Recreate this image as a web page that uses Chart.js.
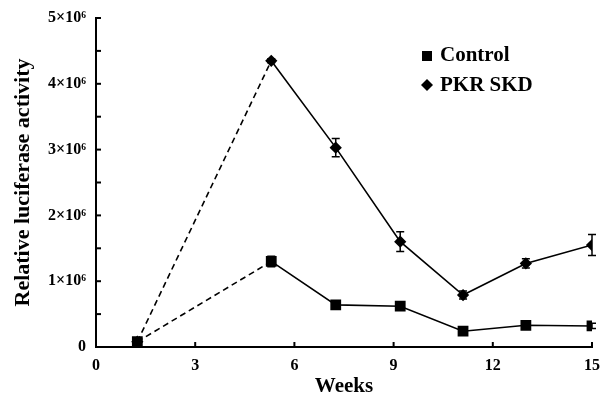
<!DOCTYPE html>
<html>
<head>
<meta charset="utf-8">
<script src="https://cdn.jsdelivr.net/npm/chart.js@4.4.0/dist/chart.umd.min.js"></script>
<style>
  html, body { margin: 0; padding: 0; background: #fff; }
  #wrap { width: 602px; height: 399px; }
</style>
</head>
<body>
<div id="wrap"><canvas id="c"></canvas></div>
<script>
// values in units of 10^6
const weeks = [1.25, 5.3, 7.25, 9.2, 11.1, 13.0, 15];
const controlVals = [0.08, 1.3, 0.64, 0.62, 0.24, 0.33, 0.32];
const controlErr = [0.02, 0.08, 0.03, 0.03, 0.04, 0.05, 0.04];
const pkrVals = [0.08, 4.35, 3.03, 1.6, 0.79, 1.27, 1.55];
const pkrErr = [0.02, 0.03, 0.14, 0.15, 0.06, 0.07, 0.16];
const xTicks = [0, 3, 6, 9, 12, 15];

const FONT = "'Liberation Serif', 'Times New Roman', serif";

const pts = (vals) => vals.map((v, i) => ({ x: weeks[i], y: v }));

// error bars, inward ticks and legend
const extras = {
  id: "extras",
  afterDatasetsDraw(chart) {
    const { ctx, scales: { x, y }, chartArea } = chart;
    ctx.save();
    ctx.strokeStyle = "#000";
    ctx.lineWidth = 1.5;
    [[controlVals, controlErr], [pkrVals, pkrErr]].forEach(([vals, errs]) => {
      vals.forEach((v, i) => {
        const px = x.getPixelForValue(weeks[i]);
        const top = y.getPixelForValue(v + errs[i]);
        const bot = y.getPixelForValue(v - errs[i]);
        ctx.beginPath();
        ctx.moveTo(px, top); ctx.lineTo(px, bot);
        ctx.moveTo(px - 4, top); ctx.lineTo(px + 4, top);
        ctx.moveTo(px - 4, bot); ctx.lineTo(px + 4, bot);
        ctx.stroke();
      });
    });
    // inward tick marks
    ctx.lineWidth = 2;
    y.ticks.forEach(t => {
      if (t.value === 0) return;
      const py = y.getPixelForValue(t.value);
      ctx.beginPath();
      ctx.moveTo(chartArea.left, py); ctx.lineTo(chartArea.left + 5, py);
      ctx.stroke();
    });
    x.ticks.forEach(t => {
      if (t.value === 0) return;
      const px = x.getPixelForValue(t.value);
      ctx.beginPath();
      ctx.moveTo(px, chartArea.bottom); ctx.lineTo(px, chartArea.bottom - 5);
      ctx.stroke();
    });
    // legend
    ctx.fillStyle = "#000";
    ctx.font = "bold 21px " + FONT;
    ctx.textBaseline = "middle";
    ctx.fillRect(422, 51, 10, 10);
    ctx.fillText("Control", 440, 56);
    ctx.beginPath();
    ctx.moveTo(427, 79); ctx.lineTo(433, 85); ctx.lineTo(427, 91); ctx.lineTo(421, 85);
    ctx.closePath(); ctx.fill();
    ctx.fillText("PKR SKD", 440, 86);
    ctx.restore();
  }
};

const dashFirst = {
  borderDash: c => c.p0DataIndex === 0 ? [6, 4] : undefined
};

new Chart(document.getElementById("c"), {
  type: "line",
  data: {
    datasets: [
      {
        label: "PKR SKD",
        data: pts(pkrVals),
        borderColor: "#000",
        backgroundColor: "#000",
        borderWidth: 1.6,
        pointStyle: "rectRot",
        pointRadius: 5,
        segment: dashFirst
      },
      {
        label: "Control",
        data: pts(controlVals),
        borderColor: "#000",
        backgroundColor: "#000",
        borderWidth: 1.6,
        pointStyle: "rect",
        pointRadius: 6.5,
        segment: dashFirst
      }
    ]
  },
  options: {
    responsive: true,
    maintainAspectRatio: false,
    animation: false,
    layout: { padding: { top: 18, right: 10, left: 0, bottom: 0 } },
    plugins: { legend: { display: false }, tooltip: { enabled: false } },
    scales: {
      x: {
        type: "linear",
        min: 0, max: 15,
        afterBuildTicks: s => { s.ticks = xTicks.map(v => ({ value: v })); },
        afterFit: s => { s.height = 52; s.paddingRight = 0; s.paddingLeft = 0; },
        grid: { display: false, drawTicks: false },
        border: { display: true, color: "#000", width: 2 },
        ticks: { color: "#000", padding: 9, font: { family: FONT, size: 16, weight: "bold" } },
        title: { display: true, text: "Weeks", color: "#000", padding: { top: 3, bottom: 0 }, font: { family: FONT, size: 21, weight: "bold" } }
      },
      y: {
        min: 0, max: 5,
        ticks: {
          stepSize: 0.5,
          color: "#000",
          padding: 10,
          font: { family: FONT, size: 16, weight: "bold" },
          callback: v => Number.isInteger(v) ? (v === 0 ? "0" : v + "×10⁶") : ""
        },
        afterFit: s => { s.width = 96; s.paddingTop = 0; s.paddingBottom = 0; },
        grid: { display: false, drawTicks: false },
        border: { display: true, color: "#000", width: 2 },
        title: { display: true, text: "Relative luciferase activity", color: "#000", padding: { top: 10, bottom: 0 }, font: { family: FONT, size: 22, weight: "bold" } }
      }
    }
  },
  plugins: [extras]
});
</script>
</body>
</html>
